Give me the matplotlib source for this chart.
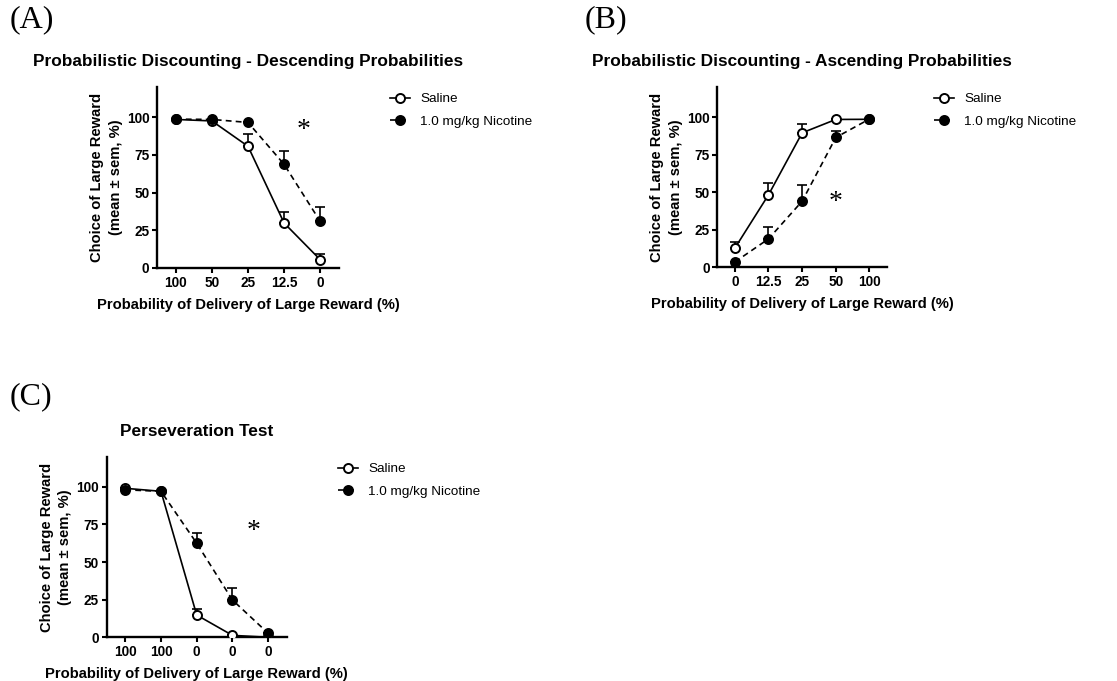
import matplotlib
matplotlib.use("Agg")
import matplotlib.pyplot as plt
import numpy as np

plt.rcParams['font.family'] = ['Liberation Sans', 'DejaVu Sans']

# ---------------- data ----------------
a_labels = ["100", "50", "25", "12.5", "0"]
a_saline = [98.5, 97.5, 80.7, 29.8, 5.5]
a_saline_err = [0, 0, 8.0, 7.2, 3.5]
a_nic = [98.7, 98.5, 96.5, 68.7, 30.9]
a_nic_err = [0, 0, 0, 8.8, 9.5]

b_labels = ["0", "12.5", "25", "50", "100"]
b_saline = [12.7, 48.2, 89.5, 98.4, 98.5]
b_saline_err = [4.0, 8.0, 6.0, 0, 0]
b_nic = [3.5, 18.9, 44.0, 86.4, 98.7]
b_nic_err = [0, 8.1, 11.0, 4.0, 0]

c_labels = ["100", "100", "0", "0", "0"]
c_saline = [99.0, 97.0, 14.8, 1.3, 0.0]
c_saline_err = [0, 0, 3.8, 0, 0]
c_nic = [98.0, 97.0, 62.5, 24.8, 2.7]
c_nic_err = [0, 0, 6.7, 7.8, 0]

series_names = ["Saline", "1.0 mg/kg Nicotine"]
titles = ["Probabilistic Discounting - Descending Probabilities",
          "Probabilistic Discounting - Ascending Probabilities",
          "Perseveration Test"]
panel_tags = ["(A)", "(B)", "(C)"]
star_pos = [(3.55, 91), (3.0, 43), (3.6, 70)]
xlabel = "Probability of Delivery of Large Reward (%)"
ylabel = "Choice of Large Reward\n(mean \u00b1 sem, %)"
yticks = [0, 25, 50, 75, 100]

W, H = 1117, 681
fig = plt.figure(figsize=(W / 100, H / 100), dpi=100)


def fx(px):
    return px / W


def fy(py):
    return 1 - py / H


# axes rectangles in pixels: left, top, right, bottom
rects = [(157, 87, 339, 268), (717.3, 87, 887, 267.3), (106.7, 456.7, 286.7, 637.3)]
legend_pos = [(390, 93), (934, 93), (338, 463)]
tag_pos = [(10, 20), (585, 20), (10, 397)]

panels = [
    (a_labels, a_saline, a_saline_err, a_nic, a_nic_err),
    (b_labels, b_saline, b_saline_err, b_nic, b_nic_err),
    (c_labels, c_saline, c_saline_err, c_nic, c_nic_err),
]

for i, (labels, sal, sal_e, nic, nic_e) in enumerate(panels):
    l, t, r, b = rects[i]
    ax = fig.add_axes([fx(l), fy(b), fx(r - l), (b - t) / H])
    x = np.arange(len(labels))
    sal = np.array(sal); nic = np.array(nic)
    ax.errorbar(x, sal, yerr=[np.zeros(len(x)), sal_e], fmt='none', ecolor='black',
                elinewidth=1.2, capsize=3.3, capthick=1.2, zorder=2)
    h1, = ax.plot(x, sal, '-', color='black', lw=1.2, marker='o', ms=6.5,
                  mfc='white', mec='black', mew=1.4, zorder=3, label=series_names[0])
    ax.errorbar(x, nic, yerr=[np.zeros(len(x)), nic_e], fmt='none', ecolor='black',
                elinewidth=1.2, capsize=3.3, capthick=1.2, zorder=4)
    h2, = ax.plot(x, nic, '--', color='black', lw=1.2, marker='o', ms=6.5,
                  mfc='black', mec='black', mew=1.4, zorder=5, dashes=(3.5, 2.5),
                  label=series_names[1])
    ax.set_xlim(-0.52, 4.52)
    ax.set_ylim(0, 120)
    ax.set_xticks(x)
    ax.set_xticklabels(labels)
    ax.set_yticks(yticks)
    for sp in ['top', 'right']:
        ax.spines[sp].set_visible(False)
    for sp in ['left', 'bottom']:
        ax.spines[sp].set_linewidth(1.7)
    ax.tick_params(axis='both', direction='out', length=3.5, width=1.5, labelsize=9.8, pad=2)
    for lab in ax.get_xticklabels() + ax.get_yticklabels():
        lab.set_fontweight('bold')
    ax.set_xlabel(xlabel, fontsize=10.6, fontweight='bold', labelpad=6)
    ax.set_ylabel(ylabel, fontsize=10.6, fontweight='bold', labelpad=3, linespacing=1.4)
    ax.set_title(titles[i], fontsize=12.4, fontweight='bold', pad=15)
    sx, sy = star_pos[i]
    ax.text(sx, sy, "*", fontsize=20, ha='center', va='center', family='Liberation Serif')
    lx, ly = legend_pos[i]
    ax.legend(handles=[h1, h2], loc='upper left', bbox_to_anchor=(fx(lx), fy(ly)),
              bbox_transform=fig.transFigure, frameon=False, fontsize=9.7,
              handlelength=1.45, handletextpad=0.8, labelspacing=0.75, borderpad=0,
              borderaxespad=0)
    tx, ty = tag_pos[i]
    fig.text(fx(tx), fy(ty), panel_tags[i], fontsize=23, family='Liberation Serif',
             ha='left', va='center')

fig.savefig("out.png", dpi=100, facecolor='white')
